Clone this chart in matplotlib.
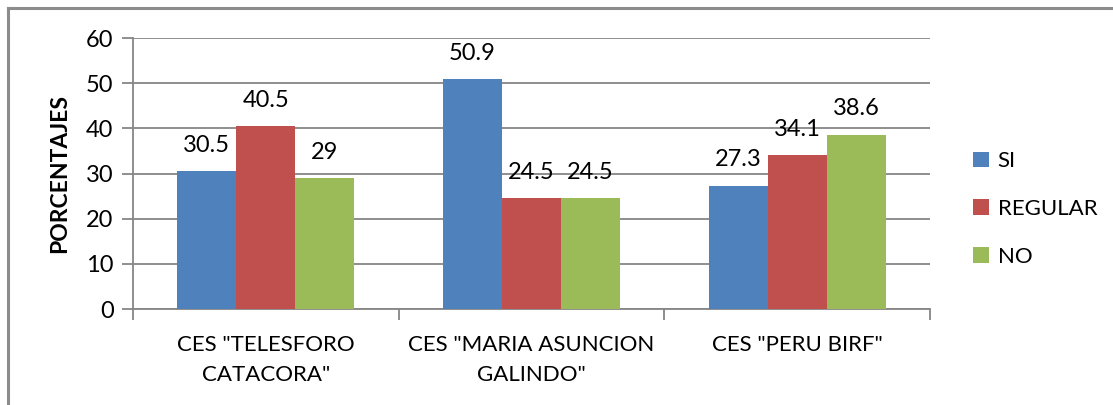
import numpy as np
import matplotlib.pyplot as plt
from matplotlib.lines import Line2D

plt.rcParams['font.family'] = ['Lato', 'DejaVu Sans']

categorias = ['CES "TELESFORO\nCATACORA"', 'CES "MARIA ASUNCION\nGALINDO"', 'CES "PERU BIRF"']
si = [30.5, 50.9, 27.3]
regular = [40.5, 24.5, 34.1]
no = [29, 24.5, 38.6]
etiquetas_si = ['30.5', '50.9', '27.3']
etiquetas_regular = ['40.5', '24.5', '34.1']
etiquetas_no = ['29', '24.5', '38.6']

colores = ['#4f81bd', '#c0504d', '#9bbb59']
gris = '#868686'

fig = plt.figure(figsize=(11.13, 4.05), dpi=100)
ax = fig.add_axes([0.1195, 0.237, 0.7161, 0.669])

# marco del grafico (solo izquierda y arriba visibles)
fig.add_artist(Line2D([8/1113, 8/1113], [0, 1 - 8/405], color='#8c8c8c', lw=2.2, transform=fig.transFigure))
fig.add_artist(Line2D([8/1113, 1], [1 - 8/405, 1 - 8/405], color='#8c8c8c', lw=2.2, transform=fig.transFigure))

x = np.arange(len(categorias))
w = 0.222
series = [(si, etiquetas_si, 'SI'), (regular, etiquetas_regular, 'REGULAR'), (no, etiquetas_no, 'NO')]
for k, (vals, etq, nombre) in enumerate(series):
    pos = x + (k - 1) * w
    ax.bar(pos, vals, width=w, color=colores[k], label=nombre, zorder=3)
    for p, v, t in zip(pos, vals, etq):
        ax.annotate(t, (p, v), xytext=(0, 11), textcoords='offset points',
                    ha='center', va='bottom', fontsize=17)

ax.set_xlim(-0.5, 2.5)
ax.set_ylim(0, 60)
ax.set_yticks(np.arange(0, 61, 10))
ax.yaxis.grid(True, color=gris, lw=1.3, zorder=0)
ax.set_axisbelow(True)
ax.tick_params(axis='y', length=8, width=1.3, color=gris, labelsize=17, pad=6)

ax.set_xticks(x)
ax.set_xticklabels(categorias, fontsize=16, linespacing=1.6)
ax.set_xticks([-0.5, 0.5, 1.5, 2.5], minor=True)
ax.tick_params(axis='x', which='major', length=0, pad=19)
ax.tick_params(axis='x', which='minor', length=8, width=1.3, color=gris)

for s in ['top', 'right']:
    ax.spines[s].set_visible(False)
for s in ['left', 'bottom']:
    ax.spines[s].set_color(gris)
    ax.spines[s].set_linewidth(1.3)

fig.text(60/1113, 1 - 174/405, 'PORCENTAJES', rotation=90, ha='center', va='center',
         fontsize=16.5, fontweight='bold')

ax.legend(loc='center left', bbox_to_anchor=(962/1113, 1 - 209/405), bbox_transform=fig.transFigure,
          frameon=False, fontsize=16, handlelength=0.7, handleheight=0.7, handletextpad=0.4,
          labelspacing=1.25, borderpad=0)

fig.savefig('out.png', dpi=100)
